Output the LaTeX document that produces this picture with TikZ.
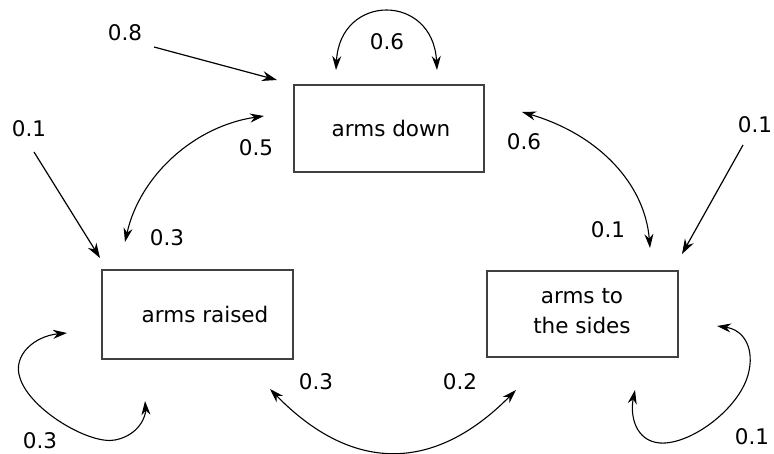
\documentclass[tikz,border=0pt]{standalone}
\usepackage{fontspec}
\setmainfont{DejaVu Sans}
\usetikzlibrary{arrows.meta}
\begin{document}
\begin{tikzpicture}[x=1pt,y=-1pt,
  state/.style={draw=black!75, line width=1.4pt, inner sep=0pt},
  txt/.style={font=\fontsize{21.5}{30}\selectfont, inner sep=0pt, align=center},
  trans/.style={line width=1.2pt, -{Stealth[length=15pt,width=10pt,inset=5pt]}},
  both/.style={line width=1.1pt, {Stealth[length=14pt,width=9pt,inset=4.5pt]}-{Stealth[length=14pt,width=9pt,inset=4.5pt]}}]
\useasboundingbox (0,0) rectangle (774,454);

% states
\node[state, minimum width=190pt, minimum height=87pt] (down) at (389,128.5) {};
\node[state, minimum width=191pt, minimum height=89pt] (raised) at (197.5,314.5) {};
\node[state, minimum width=191pt, minimum height=86pt] (sides) at (582.5,314) {};
\node[txt] (tdown) at (391,128) {arms down};
\node[txt] (traised) at (205,314) {arms raised};
\node[txt] (tsides) at (582,311) {arms to\\the sides};

% probability labels
\node[txt] (p08) at (125,33) {0.8};
\node[txt] (p01a) at (29,129) {0.1};
\node[txt] (p05) at (256,148) {0.5};
\node[txt] (p03a) at (167,238) {0.3};
\node[txt] (p06a) at (387,42) {0.6};
\node[txt] (p06b) at (524,142) {0.6};
\node[txt] (p01b) at (608,230) {0.1};
\node[txt] (p01c) at (755,125) {0.1};
\node[txt] (p03b) at (40,441) {0.3};
\node[txt] (p03c) at (316,382) {0.3};
\node[txt] (p02) at (460,382) {0.2};
\node[txt] (p01d) at (752,437) {0.1};

% connector end points
\coordinate (s08) at (154,47);   \coordinate (e08) at (277,80);
\coordinate (s01a) at (34,152);  \coordinate (e01a) at (100,258);
\coordinate (s01c) at (743,145); \coordinate (e01c) at (682,254);
\coordinate (dA) at (264,116);   \coordinate (rA) at (125,242);
\coordinate (dB) at (522,112);   \coordinate (sB) at (650,248);
\coordinate (dL) at (336,70);    \coordinate (dR) at (437,70);
\coordinate (rL) at (67,333);    \coordinate (rR) at (145,401);
\coordinate (sL) at (717,326);   \coordinate (sR) at (635,390);
\coordinate (rC) at (270,389);   \coordinate (sC) at (516,390);

% initial transitions
\draw[trans] (s08) -- (e08);
\draw[trans] (s01a) -- (e01a);
\draw[trans] (s01c) -- (e01c);

% transitions between states
\draw[both] (dA) .. controls (195,126) and (140,175) .. (rA);
\draw[both] (dB) .. controls (600,135) and (645,185) .. (sB);
\draw[both] (rC) .. controls (352,473) and (434,473) .. (sC);

% self loops
\draw[both] (dL) .. controls (340,-7) and (433,-7) .. (dR);
\draw[both] (rL) .. controls (35,336) and (12,355) .. (20,378)
  .. controls (30,410) and (90,445) .. (115,440)
  .. controls (140,435) and (146,415) .. (rR);
\draw[both] (sL) .. controls (745,330) and (755,350) .. (748,375)
  .. controls (738,410) and (690,445) .. (660,443)
  .. controls (635,441) and (630,415) .. (sR);
\end{tikzpicture}
\end{document}
